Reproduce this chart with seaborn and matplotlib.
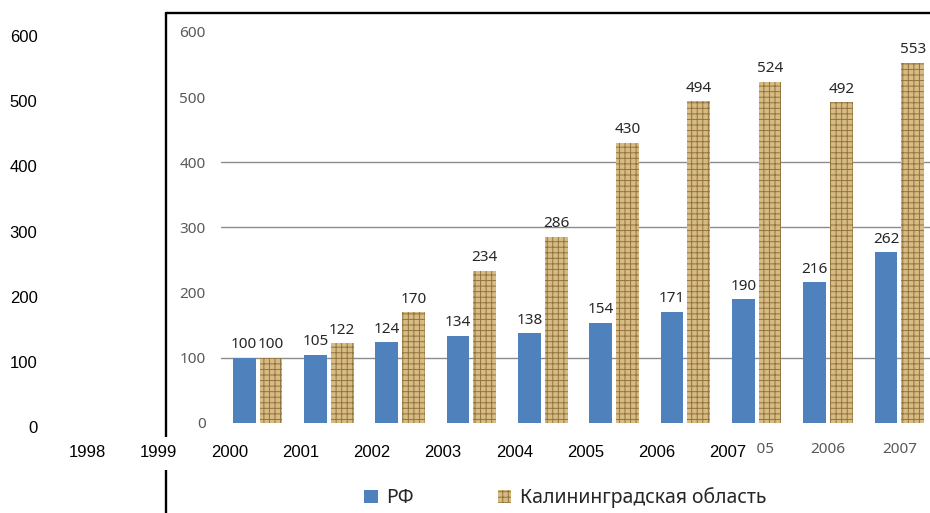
import matplotlib
matplotlib.use("Agg")
import matplotlib.pyplot as plt
from matplotlib.patches import Rectangle, Patch
from matplotlib.lines import Line2D
import seaborn as sns
import pandas as pd

# ---- data ----
years = ['1998', '1999', '2000', '2001', '2002', '2003', '2004', '2005', '2006', '2007']
rf = [100, 105, 124, 134, 138, 154, 171, 190, 216, 262]
kaliningrad = [100, 122, 170, 234, 286, 430, 494, 524, 492, 553]
series_names = ['РФ', 'Калининградская область']
inner_yticks = [0, 100, 200, 300, 400, 500, 600]
grid_values = [100, 300, 400]
# inner category labels that are not hidden behind the outer axis band
inner_visible_years = ['2005', '2006', '2007']
outer_years = ['1998', '1999', '2000', '2001', '2002', '2003', '2004', '2005', '2006', '2007']
outer_yticks = [0, 100, 200, 300, 400, 500, 600]

df = pd.DataFrame({
    'year': years * 2,
    'value': rf + kaliningrad,
    'region': [series_names[0]] * len(years) + [series_names[1]] * len(years),
})

sns.set_theme(style='white')
plt.rcParams['font.family'] = ['Noto Sans', 'DejaVu Sans']
plt.rcParams['hatch.linewidth'] = 0.7

W, H = 930, 513
fig = plt.figure(figsize=(W / 100, H / 100), dpi=100)
fig.patch.set_facecolor('white')

def fx(px):
    return px / W

def fy(py):
    return 1 - py / H

BLUE = '#4f81bd'
TAN = '#d6bc84'
TAN_DARK = '#93733d'

# ---- inner (pasted) chart ----
ax = fig.add_axes([fx(221), fy(423), fx(930) - fx(221), fy(13) - fy(423)])
ax.set_zorder(1)
sns.barplot(data=df, x='year', y='value', hue='region', order=years,
            hue_order=series_names, palette=[BLUE, TAN], width=0.75, gap=0.15,
            saturation=1, ax=ax, legend=False)
for p in ax.containers[1]:
    p.set_hatch('+++')
    p.set_edgecolor(TAN_DARK)
    p.set_linewidth(0)
for p in ax.containers[0]:
    p.set_linewidth(0)
for c in ax.containers:
    ax.bar_label(c, labels=[str(int(v)) for v in c.datavalues], padding=4,
                 fontsize=11, color='#262626')
for g in grid_values:
    ax.axhline(g, color='#8c8c8c', lw=1.0, zorder=0)
ax.set_ylim(0, (423 - 13) / 0.6517)
ax.set_xlim(-0.512, 9.43)
ax.set_yticks(inner_yticks)
ax.set_yticklabels([str(v) for v in inner_yticks], fontsize=11, color='#595959')
ax.set_xticks(range(len(years)))
ax.set_xticklabels([y if y in inner_visible_years else '' for y in years],
                   fontsize=11, color='#595959')
ax.tick_params(axis='y', length=0, pad=11)
ax.tick_params(axis='x', length=0, pad=14)
ax.set_xlabel('')
ax.set_ylabel('')
for s in ax.spines.values():
    s.set_visible(False)
ax.set_facecolor('white')

# black border of the pasted picture
fig.add_artist(Line2D([fx(166), fx(166)], [fy(13), 0], color='black', lw=1.7,
                      transform=fig.transFigure, zorder=1.5))
fig.add_artist(Line2D([fx(166), 1], [fy(13), fy(13)], color='black', lw=1.7,
                      transform=fig.transFigure, zorder=1.5))

# white band of the outer category axis
fig.add_artist(Rectangle((0, fy(470)), fx(757), fy(437) - fy(470),
                         transform=fig.transFigure, facecolor='white',
                         edgecolor='none', zorder=2))

# legend of the pasted chart
handles = [Patch(facecolor=BLUE, edgecolor=BLUE, linewidth=0),
           Patch(facecolor=TAN, edgecolor=TAN_DARK, hatch='+++', linewidth=0)]
leg = fig.legend(handles, series_names, loc='center left',
                 bbox_to_anchor=(fx(364), fy(498)), ncol=2, frameon=False,
                 handlelength=0.7, handleheight=0.7, handletextpad=0.45,
                 columnspacing=4.3, borderpad=0, borderaxespad=0,
                 prop={'family': ['Noto Sans', 'DejaVu Sans'], 'size': 14})
for t in leg.get_texts():
    t.set_color('#262626')
leg.set_zorder(5)

# ---- outer (empty) chart ----
ax2 = fig.add_axes([fx(51.4), fy(427), fx(763.4) - fx(51.4), fy(36) - fy(427)])
ax2.set_zorder(3)
ax2.patch.set_alpha(0)
ax2.set_xlim(-0.5, 9.5)
ax2.set_ylim(0, 600)
ax2.set_xticks(range(len(outer_years)))
ax2.set_xticklabels(outer_years, fontsize=12, color='black',
                    family=['Liberation Sans', 'DejaVu Sans'])
ax2.set_yticks(outer_yticks)
ax2.set_yticklabels([str(v) for v in outer_yticks], fontsize=12, color='black',
                    family=['Liberation Sans', 'DejaVu Sans'])
ax2.tick_params(axis='both', length=0)
ax2.tick_params(axis='y', pad=10)
ax2.tick_params(axis='x', pad=13)
ax2.grid(False)
for s in ax2.spines.values():
    s.set_visible(False)

fig.savefig('out.png', dpi=100, facecolor='white')
